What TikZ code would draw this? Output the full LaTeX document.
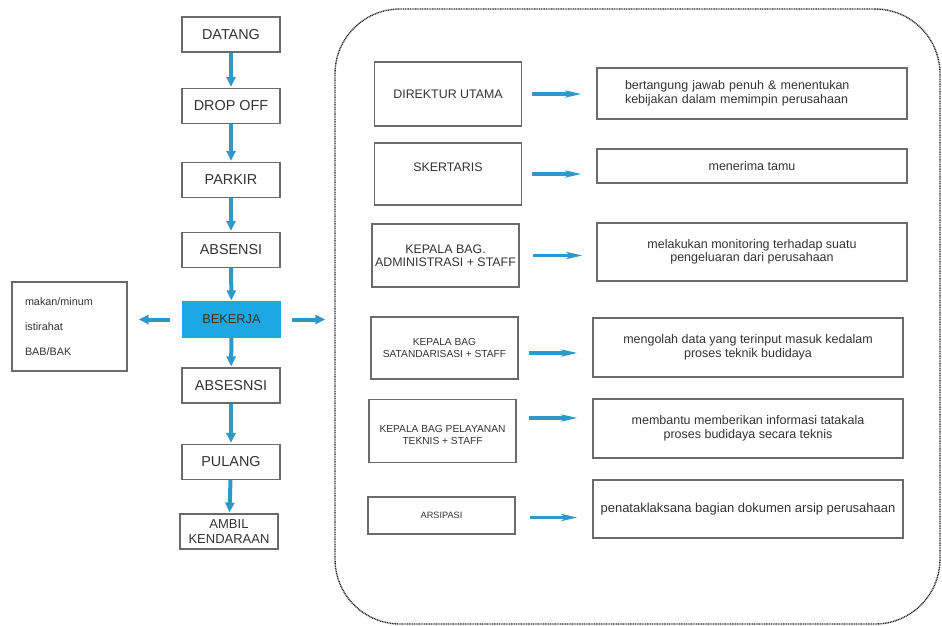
\documentclass[tikz,border=0pt]{standalone}
\usepackage{fontspec}
\setmainfont{Liberation Sans}
\usepackage{xcolor}
\usetikzlibrary{arrows.meta}

\definecolor{arrowblue}{HTML}{2F98C8}
\definecolor{workblue}{HTML}{1CA8E2}
\definecolor{edgegray}{HTML}{6A6A6A}
\definecolor{textgray}{HTML}{333333}

\begin{document}
\begin{tikzpicture}[x=1pt, y=-1pt, text=textgray]
	\useasboundingbox (0,0) rectangle (942,626);
	% frame round the organisation part
	\node (org) [draw=black!85, line width=1.4pt, dash pattern=on 1pt off 0.7pt,
		rounded corners=65pt, minimum width=605pt, minimum height=615pt] at (637.5,316.5) {};

	% daily flow
	\begin{scope}[every node/.style = {rectangle, draw=edgegray, line width=1.1pt,
			minimum width=98pt, minimum height=35pt, inner sep=0pt,
			font=\fontsize{14.4}{15}\selectfont}]
		\node (datang)   at (231,34.5)  {DATANG};
		\node (dropoff)  at (231,106)   {DROP OFF};
		\node (parkir)   at (231,180)   {PARKIR};
		\node (absensi)  at (231,250)   {ABSENSI};
		\node (bekerja) [fill=workblue, draw=workblue,
			font=\fontsize{12.8}{14}\selectfont] at (231.5,319.5) {BEKERJA};
		\node (absesnsi) at (231,385.5) {ABSESNSI};
		\node (pulang)   at (231,462)   {PULANG};
		\node (ambil) [align=center, font=\fontsize{13}{14.5}\selectfont]
			at (229,531.5) {AMBIL\\KENDARAAN};
		\node (rehat) [minimum width=115pt, minimum height=89pt, text width=89pt,
			inner xsep=13pt, align=left, font=\fontsize{10.8}{25}\selectfont]
			at (69.5,326.5) {makan/minum\\istirahat\\BAB/BAK};
	\end{scope}

	% jabatan
	\begin{scope}[every node/.style = {rectangle, draw=edgegray, line width=1.1pt,
			minimum width=147pt, inner sep=0pt, align=center,
			font=\fontsize{12.4}{13}\selectfont}]
		\node (direktur) [minimum height=64pt] at (448,94) {DIREKTUR UTAMA};
		\node (skertaris) [minimum height=62pt] at (448,174)
			{\raisebox{7pt}[\height][\depth]{SKERTARIS}};
		\node (admin) [minimum height=63pt] at (445.5,255.5) {KEPALA BAG.\\ADMINISTRASI + STAFF};
		\node (standar) [minimum height=62pt, font=\fontsize{10.2}{12}\selectfont]
			at (444.5,348) {KEPALA BAG\\SATANDARISASI + STAFF};
		\node (layanan) [minimum height=63pt, font=\fontsize{10.2}{12}\selectfont]
			at (442.5,431) {\raisebox{-5pt}[\height][\depth]{\begin{tabular}{@{}c@{}}KEPALA BAG PELAYANAN\\TEKNIS + STAFF\end{tabular}}};
		\node (arsip) [minimum height=37pt, font=\fontsize{9.2}{11}\selectfont]
			at (441.5,515.5) {ARSIPASI};
	\end{scope}

	% tugas
	\begin{scope}[every node/.style = {rectangle, draw=edgegray, line width=1.1pt,
			minimum width=310pt, inner sep=0pt, align=center,
			font=\fontsize{12.5}{13.5}\selectfont}]
		\node (tugasA) [minimum height=51pt, text width=254pt, inner xsep=28pt, align=left]
			at (752,93.5) {bertangung jawab penuh \& menentukan\\kebijakan dalam memimpin perusahaan};
		\node (tugasB) [minimum height=34pt] at (752,166) {menerima tamu};
		\node (tugasC) [minimum height=58pt] at (752,252)
			{melakukan monitoring terhadap suatu\\pengeluaran dari perusahaan};
		\node (tugasD) [minimum height=59pt] at (748,347.5)
			{mengolah data yang terinput masuk kedalam\\proses teknik budidaya};
		\node (tugasE) [minimum height=59pt] at (748,428.5)
			{membantu memberikan informasi tatakala\\proses budidaya secara teknis};
		\node (tugasF) [minimum height=58pt, font=\fontsize{13}{14}\selectfont] at (748,509)
			{penataklaksana bagian dokumen arsip perusahaan};
	\end{scope}

	\begin{scope}[>={Triangle[length=10pt, width=9pt]},
			every edge/.style={draw=arrowblue, line width=4pt}]
		\path [->, shorten >=1pt] (datang) edge (dropoff);
		\path [->, shorten >=1pt] (dropoff) edge (parkir);
		\path [->, shorten >=1pt] (parkir) edge (absensi);
		\path [->, shorten >=1pt] (absensi) edge (bekerja);
		\path [->, shorten >=1pt] (bekerja) edge (absesnsi);
		\path [->, shorten >=1pt] (absesnsi) edge (pulang);
		\path [->, shorten >=1pt] (pulang) edge (ambil);
		\path [->, shorten <=12pt, shorten >=11pt] (bekerja.west) edge (bekerja.west -| rehat.east);
		\path [->, shorten <=11pt, shorten >=9pt] (bekerja.east) edge (bekerja.east -| org.west);
	\end{scope}
	\begin{scope}[>={Stealth[length=16pt, width=7pt, inset=4pt]},
			every edge/.style={draw=arrowblue, line width=3.5pt}]
		\path [->, shorten <=10pt, shorten >=15pt] (direktur.east) edge (direktur.east -| tugasA.west);
		\path [->, shorten <=10pt, shorten >=15pt] (skertaris.east) edge (skertaris.east -| tugasB.west);
		\path [->, shorten <=13pt, shorten >=14pt] (admin.east) edge (admin.east -| tugasC.west);
		\path [->, shorten <=10pt, shorten >=15pt] ([yshift=-5pt]standar.east) edge ([yshift=-5pt]standar.east -| tugasD.west);
		\path [->, shorten <=12pt, shorten >=15pt] ([yshift=13pt]layanan.east) edge ([yshift=13pt]layanan.east -| tugasE.west);
		\path [->, shorten <=14pt, shorten >=15pt] ([yshift=-2pt]arsip.east) edge ([yshift=-2pt]arsip.east -| tugasF.west);
	\end{scope}
\end{tikzpicture}
\end{document}
